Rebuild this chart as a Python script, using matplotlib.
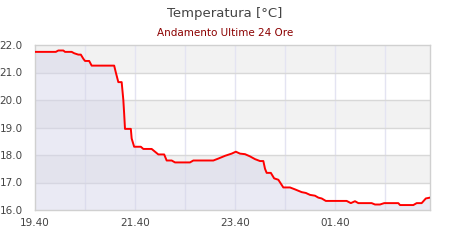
import matplotlib.pyplot as plt
import numpy as np

# ============================================
# DATA - minutes after 19:40, temperature in C
# ============================================
minutes = [0, 25, 28, 34, 36, 44, 47, 52, 55, 58, 60, 65, 68, 95, 97, 100, 104,
           106, 107, 108, 115, 116, 119, 127, 130, 140, 144, 148, 155, 158, 164,
           168, 186, 190, 214, 220, 228, 236, 241, 246, 252, 258, 264, 270, 274,
           276, 278, 283, 287, 292, 298, 306, 312, 320, 325, 330, 336, 340, 344,
           349, 374, 379, 384, 388, 404, 408, 414, 419, 436, 438, 454, 458, 464,
           469, 474]
temps = [21.75, 21.75, 21.8, 21.8, 21.75, 21.75, 21.7, 21.65, 21.65, 21.5, 21.42,
         21.42, 21.25, 21.25, 21.0, 20.65, 20.65, 20.0, 19.5, 18.95, 18.95, 18.6,
         18.3, 18.3, 18.22, 18.22, 18.12, 18.02, 18.02, 17.8, 17.8, 17.73, 17.73,
         17.8, 17.8, 17.87, 17.97, 18.05, 18.12, 18.05, 18.03, 17.95, 17.85, 17.78,
         17.78, 17.5, 17.35, 17.35, 17.15, 17.1, 16.82, 16.82, 16.75, 16.65, 16.62,
         16.55, 16.52, 16.45, 16.42, 16.33, 16.33, 16.25, 16.32, 16.25, 16.25,
         16.2, 16.2, 16.25, 16.25, 16.18, 16.18, 16.25, 16.25, 16.42, 16.45]
tick_minutes = [0, 120, 240, 360]
tick_labels = ['19.40', '21.40', '23.40', '01.40']
y_ticks = [16.0, 17.0, 18.0, 19.0, 20.0, 21.0, 22.0]

fig = plt.figure(figsize=(4.5, 2.4), dpi=100)
ax = fig.add_axes([35/450, 1 - 210/240, 395/450, 165/240])

# alternating horizontal bands
for lo in [17.0, 19.0, 21.0]:
    ax.axhspan(lo, lo + 1, color='#f2f2f2', zorder=0, lw=0)

# vertical grid every hour
for m in range(60, 474, 60):
    ax.axvline(m, color='#e4e4f2', lw=1, zorder=1)
for yv in y_ticks[1:-1]:
    ax.axhline(yv, color='#d8d8d8', lw=1, zorder=1)

ax.fill_between(minutes, temps, 16.0, color='#d6d6ea', alpha=0.5, lw=0, zorder=2)
ax.plot(minutes, temps, color='#ff0000', lw=1.4, zorder=3)

ax.set_xlim(0, 474)
ax.set_ylim(16.0, 22.0)
ax.set_xticks(tick_minutes)
ax.set_xticklabels(tick_labels)
ax.set_yticks(y_ticks)
ax.set_yticklabels([f'{v:.1f}' for v in y_ticks])
ax.tick_params(length=0, labelsize=7.5, colors='#444444', pad=6)
ax.tick_params(axis='y', pad=9)
for s in ax.spines.values():
    s.set_color('#d0d0d0')
    s.set_linewidth(1)

fig.text(0.5, 1 - 14/240, 'Temperatura [°C]', ha='center', va='center',
         fontsize=9.5, color='#444444')
fig.text(0.5, 1 - 33/240, 'Andamento Ultime 24 Ore', ha='center', va='center',
         fontsize=7.5, color='#8b0000')

plt.savefig('out.png', dpi=100)
